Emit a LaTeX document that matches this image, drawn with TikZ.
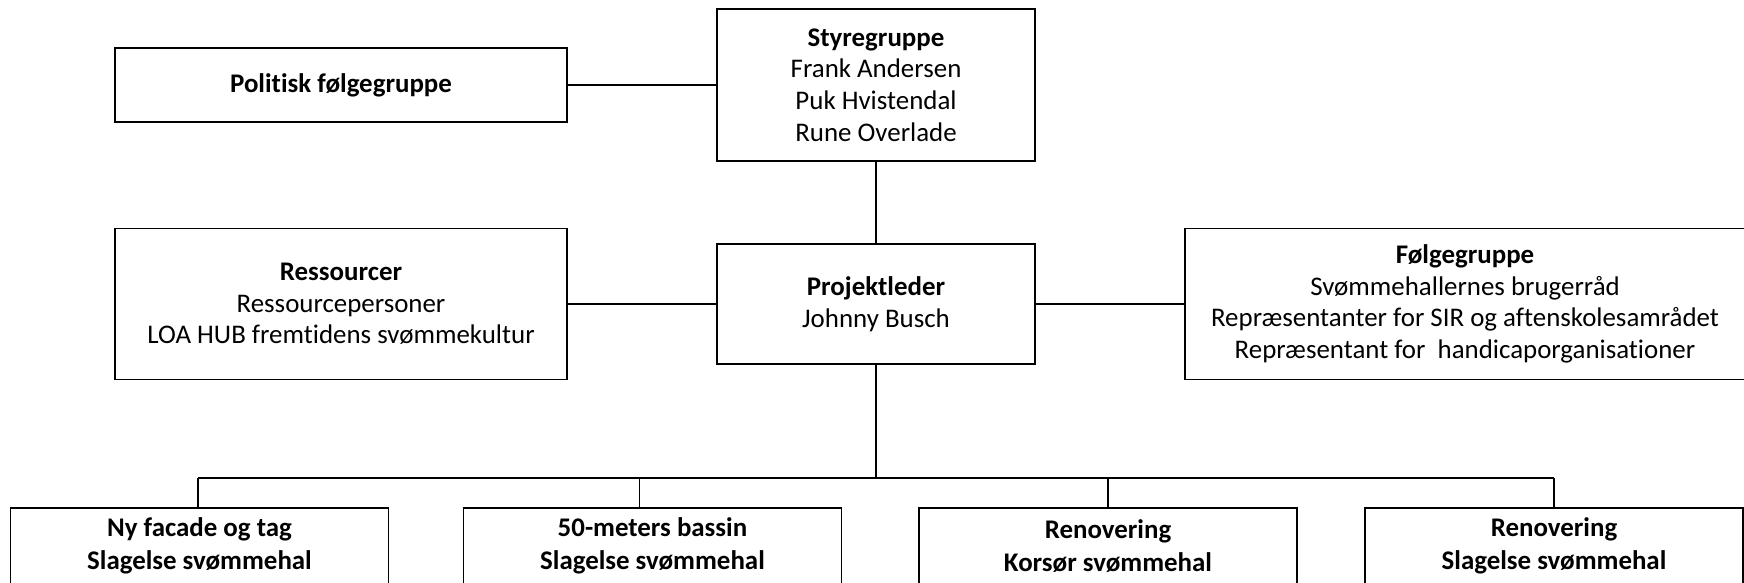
\documentclass[tikz,border=0pt]{standalone}
\usepackage{fontspec}
\setmainfont{Carlito}[RawFeature={-liga}]
\usetikzlibrary{calc,positioning}
\tikzstyle{box}=[draw,rectangle,align=center,inner sep=0,line width=1.1pt,font=\fontsize{26.9}{31.7}\selectfont]
\tikzstyle{side box}=[box,minimum width=452,minimum height=151]
\tikzstyle{mid box}=[box,minimum width=318]
\tikzstyle{sub box}=[box,minimum width=378,minimum height=76,font=\fontsize{26.9}{33}\selectfont\bfseries]
\tikzstyle{link}=[line width=1.1pt]

\begin{document}
\begin{tikzpicture}[x=1pt,y=-1pt]
		\useasboundingbox (0,0) rectangle (1744,582);

		% top row
		\node(styre)[mid box,minimum height=152] at (876,85) {\textbf{Styregruppe}\\Frank Andersen\\Puk Hvistendal\\Rune Overlade};
		\node(polit)[side box,minimum height=74] at (341,85) {\textbf{Politisk følgegruppe}};

		% middle row
		\node(proj)[mid box,minimum height=120] at (876,304) {\textbf{Projektleder}\\Johnny Busch};
		\node(ress)[side box] at (341,304) {\textbf{Ressourcer}\\Ressourcepersoner\\LOA HUB fremtidens svømmekultur};
		\node(folg)[side box,minimum width=560] at (1465,304) {\textbf{Følgegruppe}\\Svømmehallernes brugerråd\\Repræsentanter for SIR og aftenskolesamrådet\\Repræsentant for~ handicaporganisationer};

		% sub projects
		\node(b1)[sub box] at (199.5,546) {Ny facade og tag\\Slagelse svømmehal};
		\node(b2)[sub box] at (652.5,546) {50-meters bassin\\Slagelse svømmehal};
		\node(b3)[sub box] at (1108,546) {Renovering\\Korsør svømmehal};
		\node(b4)[sub box] at (1554,546) {Renovering\\Slagelse svømmehal};

		\coordinate(bus) at (876,478);
		\coordinate(t1) at (198,478);
		\coordinate(t2) at (639.5,478);
		\coordinate(t3) at (1108,478);
		\coordinate(t4) at (1554,478);

		\draw[link] (polit.east) -- (styre.west);
		\draw[link] (styre.south) -- (proj.north);
		\draw[link] (ress.east) -- (proj.west);
		\draw[link] (proj.east) -- (folg.west);
		\draw[link] (proj.south) -- (bus);
		\draw[link] (t1) -- (t4);
		\foreach \i in {1,...,4}
			\draw[link] (t\i) -- (t\i |- b\i.north);

\end{tikzpicture}
\end{document}
